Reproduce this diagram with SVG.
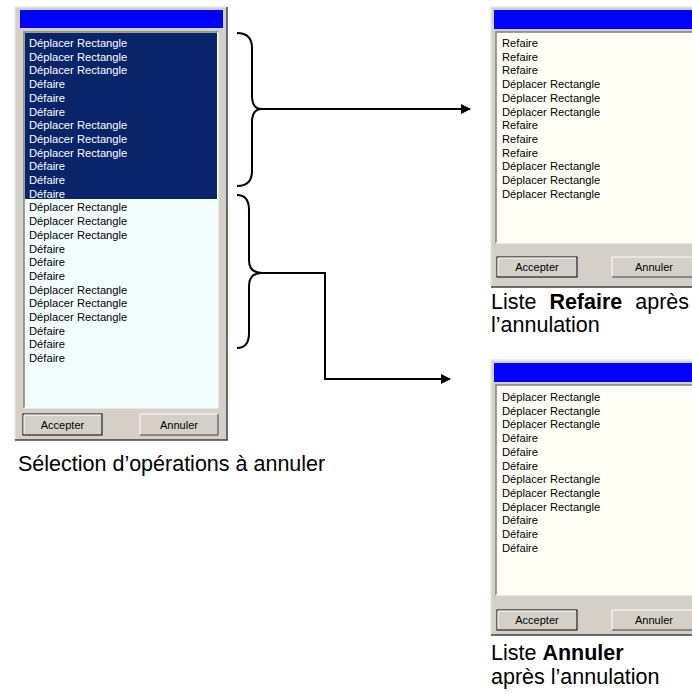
<svg xmlns="http://www.w3.org/2000/svg" width="692" height="695" viewBox="0 0 692 695">
<defs>
<style>
.frame{fill:#d4d0c8;stroke:none}
.title{fill:#0000ff}
.item{font-family:"Liberation Sans",Arial,sans-serif;font-size:11.2px;fill:#000}
.sel{fill:#ffffff}
.btn{font-family:"Liberation Sans",Arial,sans-serif;font-size:11px;fill:#000;text-anchor:middle}
.cap{font-family:"Liberation Sans",Arial,sans-serif;font-size:21.5px;fill:#000}
.conn{fill:none;stroke:#000;stroke-width:2}
</style>
<marker id="arr" markerWidth="10" markerHeight="10" refX="9" refY="5" orient="auto" markerUnits="userSpaceOnUse" viewBox="0 0 10 10">
<path d="M0,0 L10,5 L0,10 z" fill="#000"/>
</marker>
</defs>
<rect width="692" height="695" fill="#fff"/>

<g id="win-selection">
<rect class="frame" x="15" y="7" width="212" height="433"/>
<path d="M15,440 V7 H227" fill="none" stroke="#e8e6e0" stroke-width="1.5"/>
<path d="M15,440 H227 V7" fill="none" stroke="#404040" stroke-width="1.5"/>
<rect class="title" x="20" y="10" width="203" height="18"/>
<rect x="24" y="32" width="194" height="376" fill="#f2fefe"/>
<rect x="25" y="33" width="192" height="166" fill="#0a246a"/>
<path d="M24,408 V32 H218" fill="none" stroke="#808080" stroke-width="1.5"/>
<path d="M24,408 H218 V32" fill="none" stroke="#ffffff" stroke-width="1"/>
<g class="item sel">
<text x="29" y="47">Déplacer Rectangle</text>
<text x="29" y="60.7">Déplacer Rectangle</text>
<text x="29" y="74.4">Déplacer Rectangle</text>
<text x="29" y="88.1">Défaire</text>
<text x="29" y="101.8">Défaire</text>
<text x="29" y="115.5">Défaire</text>
<text x="29" y="129.2">Déplacer Rectangle</text>
<text x="29" y="142.9">Déplacer Rectangle</text>
<text x="29" y="156.6">Déplacer Rectangle</text>
<text x="29" y="170.3">Défaire</text>
<text x="29" y="184">Défaire</text>
<text x="29" y="197.7">Défaire</text>
</g>
<g class="item">
<text x="29" y="211.4">Déplacer Rectangle</text>
<text x="29" y="225.1">Déplacer Rectangle</text>
<text x="29" y="238.8">Déplacer Rectangle</text>
<text x="29" y="252.5">Défaire</text>
<text x="29" y="266.2">Défaire</text>
<text x="29" y="279.9">Défaire</text>
<text x="29" y="293.6">Déplacer Rectangle</text>
<text x="29" y="307.3">Déplacer Rectangle</text>
<text x="29" y="321">Déplacer Rectangle</text>
<text x="29" y="334.7">Défaire</text>
<text x="29" y="348.4">Défaire</text>
<text x="29" y="362.1">Défaire</text>
</g>
<rect x="23" y="414" width="79" height="21" fill="#d4d0c8" stroke="#000" stroke-width="1"/>
<path d="M24,434 V415 H101" fill="none" stroke="#fff"/>
<text class="btn" x="62.5" y="428.5">Accepter</text>
<rect x="140" y="414" width="78" height="21" fill="#d4d0c8"/>
<path d="M140,435 V414 H218" fill="none" stroke="#fff"/>
<path d="M140,435 H218 V414" fill="none" stroke="#404040"/>
<text class="btn" x="179" y="428.5">Annuler</text>
<text class="cap" x="18" y="471">Sélection d’opérations à annuler</text>
</g>

<g id="win-refaire">
<rect class="frame" x="491" y="7" width="205" height="280"/>
<path d="M491,287 V7 H696" fill="none" stroke="#e8e6e0" stroke-width="1.5"/>
<path d="M491,287 H696" fill="none" stroke="#404040" stroke-width="1.5"/>
<rect class="title" x="494" y="10" width="200" height="19"/>
<rect x="496" y="32" width="200" height="211" fill="#fffff6"/>
<path d="M496,243 V32 H696" fill="none" stroke="#808080" stroke-width="1.5"/>
<path d="M496,243 H696" fill="none" stroke="#ffffff" stroke-width="1"/>
<g class="item">
<text x="502" y="47">Refaire</text>
<text x="502" y="60.7">Refaire</text>
<text x="502" y="74.4">Refaire</text>
<text x="502" y="88.1">Déplacer Rectangle</text>
<text x="502" y="101.8">Déplacer Rectangle</text>
<text x="502" y="115.5">Déplacer Rectangle</text>
<text x="502" y="129.2">Refaire</text>
<text x="502" y="142.9">Refaire</text>
<text x="502" y="156.6">Refaire</text>
<text x="502" y="170.3">Déplacer Rectangle</text>
<text x="502" y="184">Déplacer Rectangle</text>
<text x="502" y="197.7">Déplacer Rectangle</text>
</g>
<rect x="497" y="257" width="80" height="20" fill="#d4d0c8" stroke="#000" stroke-width="1"/>
<path d="M498,276 V258 H576" fill="none" stroke="#fff"/>
<text class="btn" x="537" y="271">Accepter</text>
<rect x="612" y="257" width="90" height="20" fill="#d4d0c8"/>
<path d="M612,277 V257 H702" fill="none" stroke="#fff"/>
<path d="M612,277 H702" fill="none" stroke="#404040"/>
<text class="btn" x="654" y="271">Annuler</text>
<text class="cap" x="491" y="309" word-spacing="7">Liste <tspan font-weight="bold">Refaire</tspan> après</text>
<text class="cap" x="491" y="332">l’annulation</text>
</g>

<g id="win-annuler">
<rect class="frame" x="491" y="360" width="205" height="275"/>
<path d="M491,635 V360 H696" fill="none" stroke="#e8e6e0" stroke-width="1.5"/>
<path d="M491,635 H696" fill="none" stroke="#404040" stroke-width="1.5"/>
<rect class="title" x="494" y="363" width="200" height="19"/>
<rect x="496" y="385" width="200" height="210" fill="#fffff6"/>
<path d="M496,595 V385 H696" fill="none" stroke="#808080" stroke-width="1.5"/>
<path d="M496,595 H696" fill="none" stroke="#ffffff" stroke-width="1"/>
<g class="item">
<text x="502" y="401">Déplacer Rectangle</text>
<text x="502" y="414.7">Déplacer Rectangle</text>
<text x="502" y="428.4">Déplacer Rectangle</text>
<text x="502" y="442.1">Défaire</text>
<text x="502" y="455.8">Défaire</text>
<text x="502" y="469.5">Défaire</text>
<text x="502" y="483.2">Déplacer Rectangle</text>
<text x="502" y="496.9">Déplacer Rectangle</text>
<text x="502" y="510.6">Déplacer Rectangle</text>
<text x="502" y="524.3">Défaire</text>
<text x="502" y="538">Défaire</text>
<text x="502" y="551.7">Défaire</text>
</g>
<rect x="497" y="610" width="80" height="20" fill="#d4d0c8" stroke="#000" stroke-width="1"/>
<path d="M498,629 V611 H576" fill="none" stroke="#fff"/>
<text class="btn" x="537" y="624">Accepter</text>
<rect x="612" y="610" width="90" height="20" fill="#d4d0c8"/>
<path d="M612,630 V610 H702" fill="none" stroke="#fff"/>
<path d="M612,630 H702" fill="none" stroke="#404040"/>
<text class="btn" x="654" y="624">Annuler</text>
<text class="cap" x="491" y="660">Liste <tspan font-weight="bold">Annuler</tspan></text>
<text class="cap" x="491" y="684">après l’annulation</text>
</g>

<g id="connectors">
<path class="conn" d="M237,33 Q252,33 252,48 L252,96 Q252,109 262,109 Q252,109 252,122 L252,171 Q252,186 237,186"/>
<path class="conn" d="M237,195 Q249,195 249,210 L249,260 Q249,273 262,273 Q249,273 249,286 L249,333 Q249,348 237,348"/>
<path class="conn" d="M262,109 H470" marker-end="url(#arr)"/>
<path class="conn" d="M262,273 H325 V379 H450" marker-end="url(#arr)"/>
</g>
</svg>
